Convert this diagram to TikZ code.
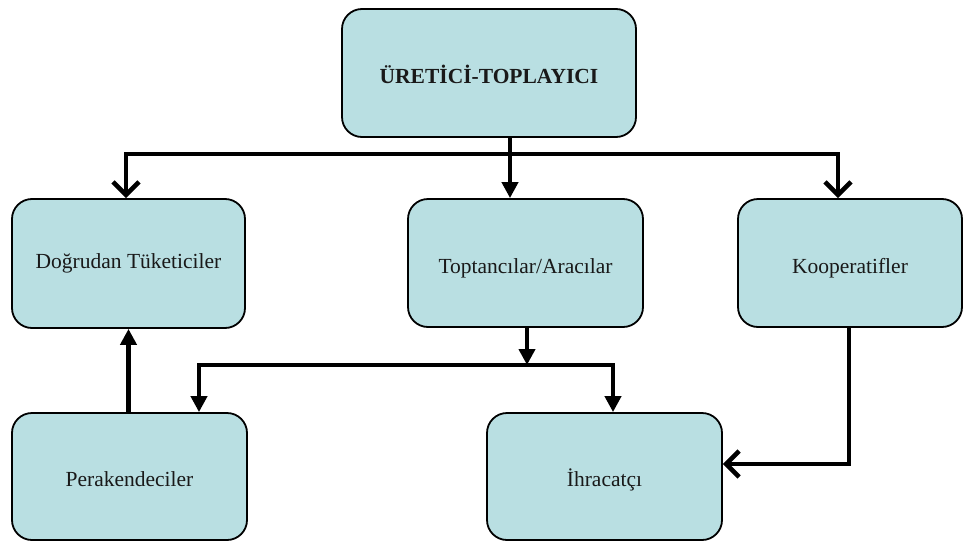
\documentclass[tikz,border=0pt]{standalone}
\usepackage{fontspec}
\setmainfont{Liberation Serif}
\usetikzlibrary{arrows.meta}
\definecolor{boxfill}{RGB}{185,223,226}
\tikzset{
  box/.style={draw=black, line width=1.8pt, fill=boxfill, rounded corners=20pt,
    minimum width=#1, minimum height=128pt, inner sep=0pt,
    text height=15pt, text depth=5pt,
    font=\fontsize{21.5}{25}\selectfont, text=black!90},
  box/.default=235pt,
  conn/.style={draw=black, line width=4.5pt, line join=miter},
  tri/.tip={Triangle[length=16pt,width=16pt]},
  barb/.tip={Straight Barb[length=13pt,width=26pt]}
}
\begin{document}
\begin{tikzpicture}[x=1pt,y=-1pt]
\useasboundingbox (0,0) rectangle (964,541);
\node[box=294pt] (top) at (489,73) {\raisebox{-5pt}{\textbf{ÜRETİCİ-TOPLAYICI}}};
\node[box=233pt, minimum height=129pt] (dog) at (128.5,263.5) {Doğrudan Tüketiciler};
\node[box] (tpt) at (525.5,263) {\raisebox{-5pt}{Toptancılar/Aracılar}};
\node[box=224pt] (koop) at (850,263) {\raisebox{-5pt}{Kooperatifler}};
\node[box, minimum height=127pt] (per) at (129.5,476.5) {\raisebox{-5pt}{Perakendeciler}};
\node[box, minimum height=127pt] (ihr) at (604.5,476.5) {\raisebox{-5pt}{İhracatçı}};

\coordinate (j1) at (510,154);
\coordinate (bl) at (126,154);
\coordinate (br) at (838,154);
\draw[conn, -tri] (j1 |- top.south) -- (j1 |- tpt.north);
\draw[conn, barb-barb] (bl |- dog.north) -- (bl) -- (br) -- (br |- koop.north);

\coordinate (j2) at (527,365);
\coordinate (bl2) at (199,365);
\coordinate (br2) at (613,365);
\draw[conn, -tri] (j2 |- tpt.south) -- (j2);
\draw[conn, tri-tri] (bl2 |- per.north) -- (bl2) -- (br2) -- (br2 |- ihr.north);

\draw[conn, -tri] (per.north -| dog.south) -- (dog.south);

\coordinate (k) at (849,464);
\draw[conn, -barb] (k |- koop.south) -- (k) -- (k -| ihr.east);
\end{tikzpicture}
\end{document}
